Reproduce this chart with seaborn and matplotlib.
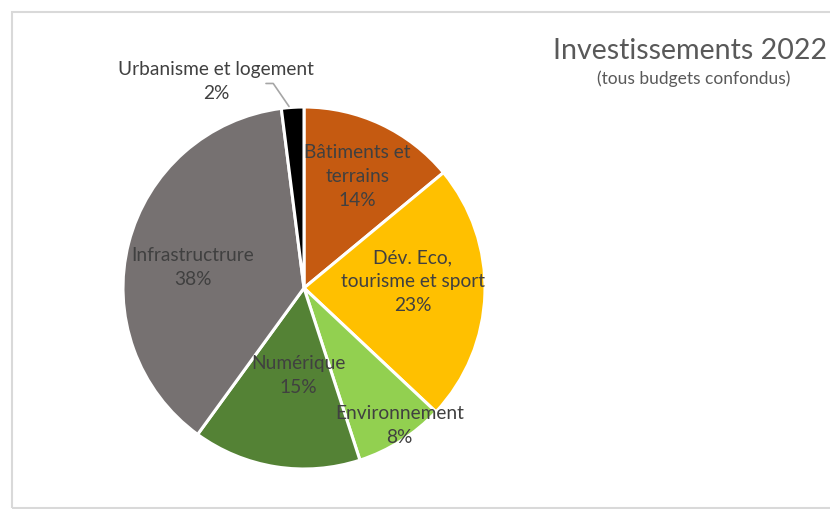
import numpy as np
import matplotlib
matplotlib.use("Agg")
import matplotlib.pyplot as plt
import seaborn as sns

categories = ["Bâtiments et\nterrains", "Dév. Eco,\ntourisme et sport", "Environnement",
              "Numérique", "Infrastructrure", "Urbanisme et logement"]
values = [14, 23, 8, 15, 38, 2]
colors = ["#C55A11", "#FFC000", "#92D050", "#548235", "#767171", "#000000"]
label_dist = [0.69, 0.6, 0.9, 0.48, 0.62, None]
label_shift = [(0.0, -0.01), (0.0, 0.055), (0.045, 0.0), (0.045, -0.01), (-0.015, -0.04), (0, 0)]

sns.set_theme(style="white")
plt.rcParams['font.family'] = ['Lato', 'DejaVu Sans']

fig = plt.figure(figsize=(8.3, 5.09), dpi=100)
W, H = 830, 509
cx, cy, r = 304, 288, 181
ax = fig.add_axes([(cx - r) / W, (H - cy - r) / H, 2 * r / W, 2 * r / H])

wedges, _ = ax.pie(values, colors=colors, startangle=90, counterclock=False,
                   radius=1, wedgeprops=dict(edgecolor="white", linewidth=2.2))
ax.set_xlim(-1, 1)
ax.set_ylim(-1, 1)
ax.set_aspect("equal")
ax.axis("off")

txtc = "#404040"
fs = 13.8
ls = 1.5
total = sum(values)
for w, cat, v, d, (sx, sy) in zip(wedges, categories, values, label_dist, label_shift):
    ang = np.deg2rad((w.theta1 + w.theta2) / 2)
    pct = f"{round(100 * v / total)}%"
    if d is None:
        lx, ly = -0.485, 1.14
        ax.text(lx, ly, cat + "\n" + pct, ha="center", va="center", fontsize=fs,
                color=txtc, linespacing=ls)
        ex, ey = np.cos(ang), np.sin(ang)
        ax.plot([-0.21, -0.17, ex - 0.02], [1.13, 1.13, ey + 0.005], color="#A6A6A6", lw=1.2,
                clip_on=False)
    else:
        ax.text(d * np.cos(ang) + sx, d * np.sin(ang) + sy,
                cat + "\n" + pct, ha="center", va="center", fontsize=fs, color=txtc,
                linespacing=ls)

# frame
fig.patches.append(plt.Rectangle((12 / W, 1 / H), 1.2, (H - 13) / H, transform=fig.transFigure,
                                 fill=False, edgecolor="#D9D9D9", lw=1.5))

fig.text(553 / W, (H - 51) / H, "Investissements 2022", fontsize=20.6, color="#595959",
         ha="left", va="center")
fig.text(694 / W, (H - 79) / H, "(tous budgets confondus)", fontsize=12.5, color="#595959",
         ha="center", va="center")

fig.savefig("out.png", dpi=100, facecolor="white")
